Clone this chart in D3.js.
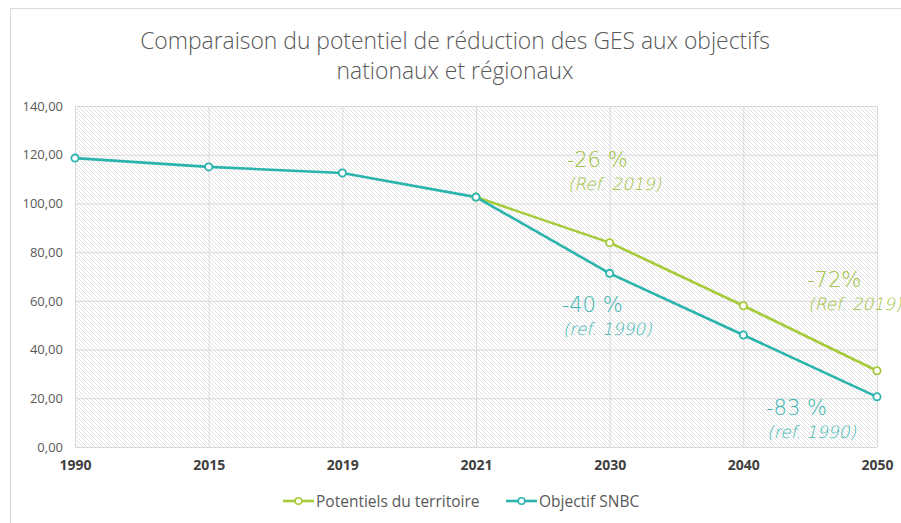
<!DOCTYPE html>
<html><head><meta charset="utf-8">
<script src="https://cdn.jsdelivr.net/npm/d3@7"></script>
<style>
html,body{margin:0;padding:0;background:#fff;}
svg{display:block;}
</style></head>
<body>
<svg id="chart" width="901" height="523"></svg>
<script>
const categories = ["1990","2015","2019","2021","2030","2040","2050"];
const potentiels = [null, null, null, 102.6, 83.9, 58.0, 31.3];
const objectifSNBC = [118.6, 115.0, 112.5, 102.6, 71.3, 46.0, 20.6];
const yTicks = [0,20,40,60,80,100,120,140];
const titleLines = ["Comparaison du potentiel de réduction des GES aux objectifs","nationaux et régionaux"];
const seriesNames = ["Potentiels du territoire","Objectif SNBC"];
const annotations = [
  {cat:"2030", val:115, big:"-26 %", small:"(Ref. 2019)", s:0, dx:-43},
  {cat:"2050", val:65.7, big:"-72%", small:"(Ref. 2019)", s:0, dx:-70},
  {cat:"2030", val:55.4, big:"-40 %", small:"(ref. 1990)", s:1, dx:-48},
  {cat:"2050", val:13.1, big:"-83 %", small:"(ref. 1990)", s:1, dx:-111}
];

const lineColors = ["#a5cb3a","#2bb3ad"];
const textColors = ["#9cbf3c","#3db5b0"];

const svg = d3.select("#chart");
const W = 901, H = 523;

// outer chart border
svg.append("rect").attr("x",10.5).attr("y",8.5).attr("width",W).attr("height",H)
  .attr("fill","#fff").attr("stroke","#d9d9d9").attr("stroke-width",1);

const defs = svg.append("defs");
const pat = defs.append("pattern").attr("id","hatch").attr("patternUnits","userSpaceOnUse")
  .attr("width",4).attr("height",4);
pat.append("rect").attr("width",4).attr("height",4).attr("fill","#ffffff");
pat.append("path").attr("d","M-1,-1 L5,5 M3,-1 L5,1 M-1,3 L1,5")
  .attr("stroke","#dcdcdc").attr("stroke-width",0.9);

const x = d3.scalePoint().domain(categories).range([75, 877]);
const y = d3.scaleLinear().domain([0,140]).range([447, 106]);

// plot background
svg.append("rect").attr("x",x.range()[0]).attr("y",y(140))
  .attr("width",x.range()[1]-x.range()[0]).attr("height",y(0)-y(140))
  .attr("fill","url(#hatch)");

// gridlines
const gy = d3.axisLeft(y).tickValues(yTicks).tickSize(-(x.range()[1]-x.range()[0])).tickFormat("");
svg.append("g").attr("transform",`translate(${x.range()[0]},0)`).call(gy)
  .call(g=>g.select(".domain").remove())
  .call(g=>g.selectAll("line").attr("stroke","#d9d9d9").attr("stroke-width",1));
const gx = d3.axisBottom(x).tickSize(-(y(0)-y(140))).tickFormat("");
svg.append("g").attr("transform",`translate(0,${y(0)})`).call(gx)
  .call(g=>g.select(".domain").remove())
  .call(g=>g.selectAll("line").attr("stroke","#d9d9d9").attr("stroke-width",1));

// y axis labels
const fmt = v => d3.format(".2f")(v).replace(".", ",");
const ay = d3.axisLeft(y).tickValues(yTicks).tickSize(0).tickPadding(0).tickFormat(fmt);
svg.append("g").attr("transform","translate(63,0)").call(ay)
  .call(g=>g.select(".domain").remove())
  .call(g=>g.selectAll("text").attr("fill","#595959").style("font-family","'Open Sans', sans-serif").style("font-size","13px"));

// x axis labels
const ax = d3.axisBottom(x).tickSize(0).tickPadding(0);
svg.append("g").attr("transform",`translate(0,${y(0)+13})`).call(ax)
  .call(g=>g.select(".domain").remove())
  .call(g=>g.selectAll("text").attr("fill","#404040").style("font-family","'Open Sans', sans-serif")
    .style("font-size","14px").style("font-weight","bold"));

// lines
const seriesData = [potentiels, objectifSNBC];
const line = d3.line().defined(d=>d.v!=null).x(d=>x(d.c)).y(d=>y(d.v));
seriesData.forEach((vals,i)=>{
  const pts = categories.map((c,j)=>({c, v: vals[j]}));
  svg.append("path").datum(pts).attr("d",line).attr("fill","none")
    .attr("stroke",lineColors[i]).attr("stroke-width",2.6).attr("stroke-linejoin","round");
});
seriesData.forEach((vals,i)=>{
  const pts = categories.map((c,j)=>({c, v: vals[j]})).filter(d=>d.v!=null);
  svg.append("g").selectAll("circle").data(pts).join("circle")
    .attr("cx",d=>x(d.c)).attr("cy",d=>y(d.v)).attr("r",3.6)
    .attr("fill","#fff").attr("stroke",lineColors[i]).attr("stroke-width",1.8);
});

// annotations
const ann = svg.append("g").style("font-family","'DejaVu Sans', sans-serif").style("font-weight","200");
annotations.forEach(a=>{
  const bx = x(a.cat) + a.dx, by = y(a.val);
  ann.append("text").attr("x",bx).attr("y",by).text(a.big)
    .attr("fill",textColors[a.s]).style("font-size","21px");
  ann.append("g").attr("transform",`translate(${bx+1},${by+23}) skewX(-13)`)
    .append("text").attr("x",0).attr("y",0).text(a.small)
    .attr("fill",textColors[a.s]).style("font-size","17px");
});

// title
const tg = svg.append("g").style("font-family","'Open Sans', sans-serif").attr("fill","#595959");
const t1 = tg.append("text").attr("x",455).attr("y",49).attr("text-anchor","middle").text(titleLines[0])
  .style("font-size","22px").style("font-weight","300");
let w = t1.node().getComputedTextLength();
const fs = 22 * 630 / w;
t1.style("font-size", fs+"px");
tg.append("text").attr("x",455).attr("y",79).attr("text-anchor","middle").text(titleLines[1])
  .style("font-size", fs+"px").style("font-weight","300");

// legend
const lg = svg.append("g").style("font-family","'Open Sans', sans-serif");
const legX = [283, 506];
seriesNames.forEach((n,i)=>{
  const g = lg.append("g").attr("transform",`translate(${legX[i]},501)`);
  g.append("line").attr("x1",0).attr("x2",31).attr("stroke",lineColors[i]).attr("stroke-width",2.6);
  g.append("circle").attr("cx",15.5).attr("r",3.3).attr("fill","#fff").attr("stroke",lineColors[i]).attr("stroke-width",1.6);
  g.append("text").attr("x",33).attr("y",5.5).text(n).attr("fill","#595959").style("font-size","15.5px");
});
</script>
</body></html>
